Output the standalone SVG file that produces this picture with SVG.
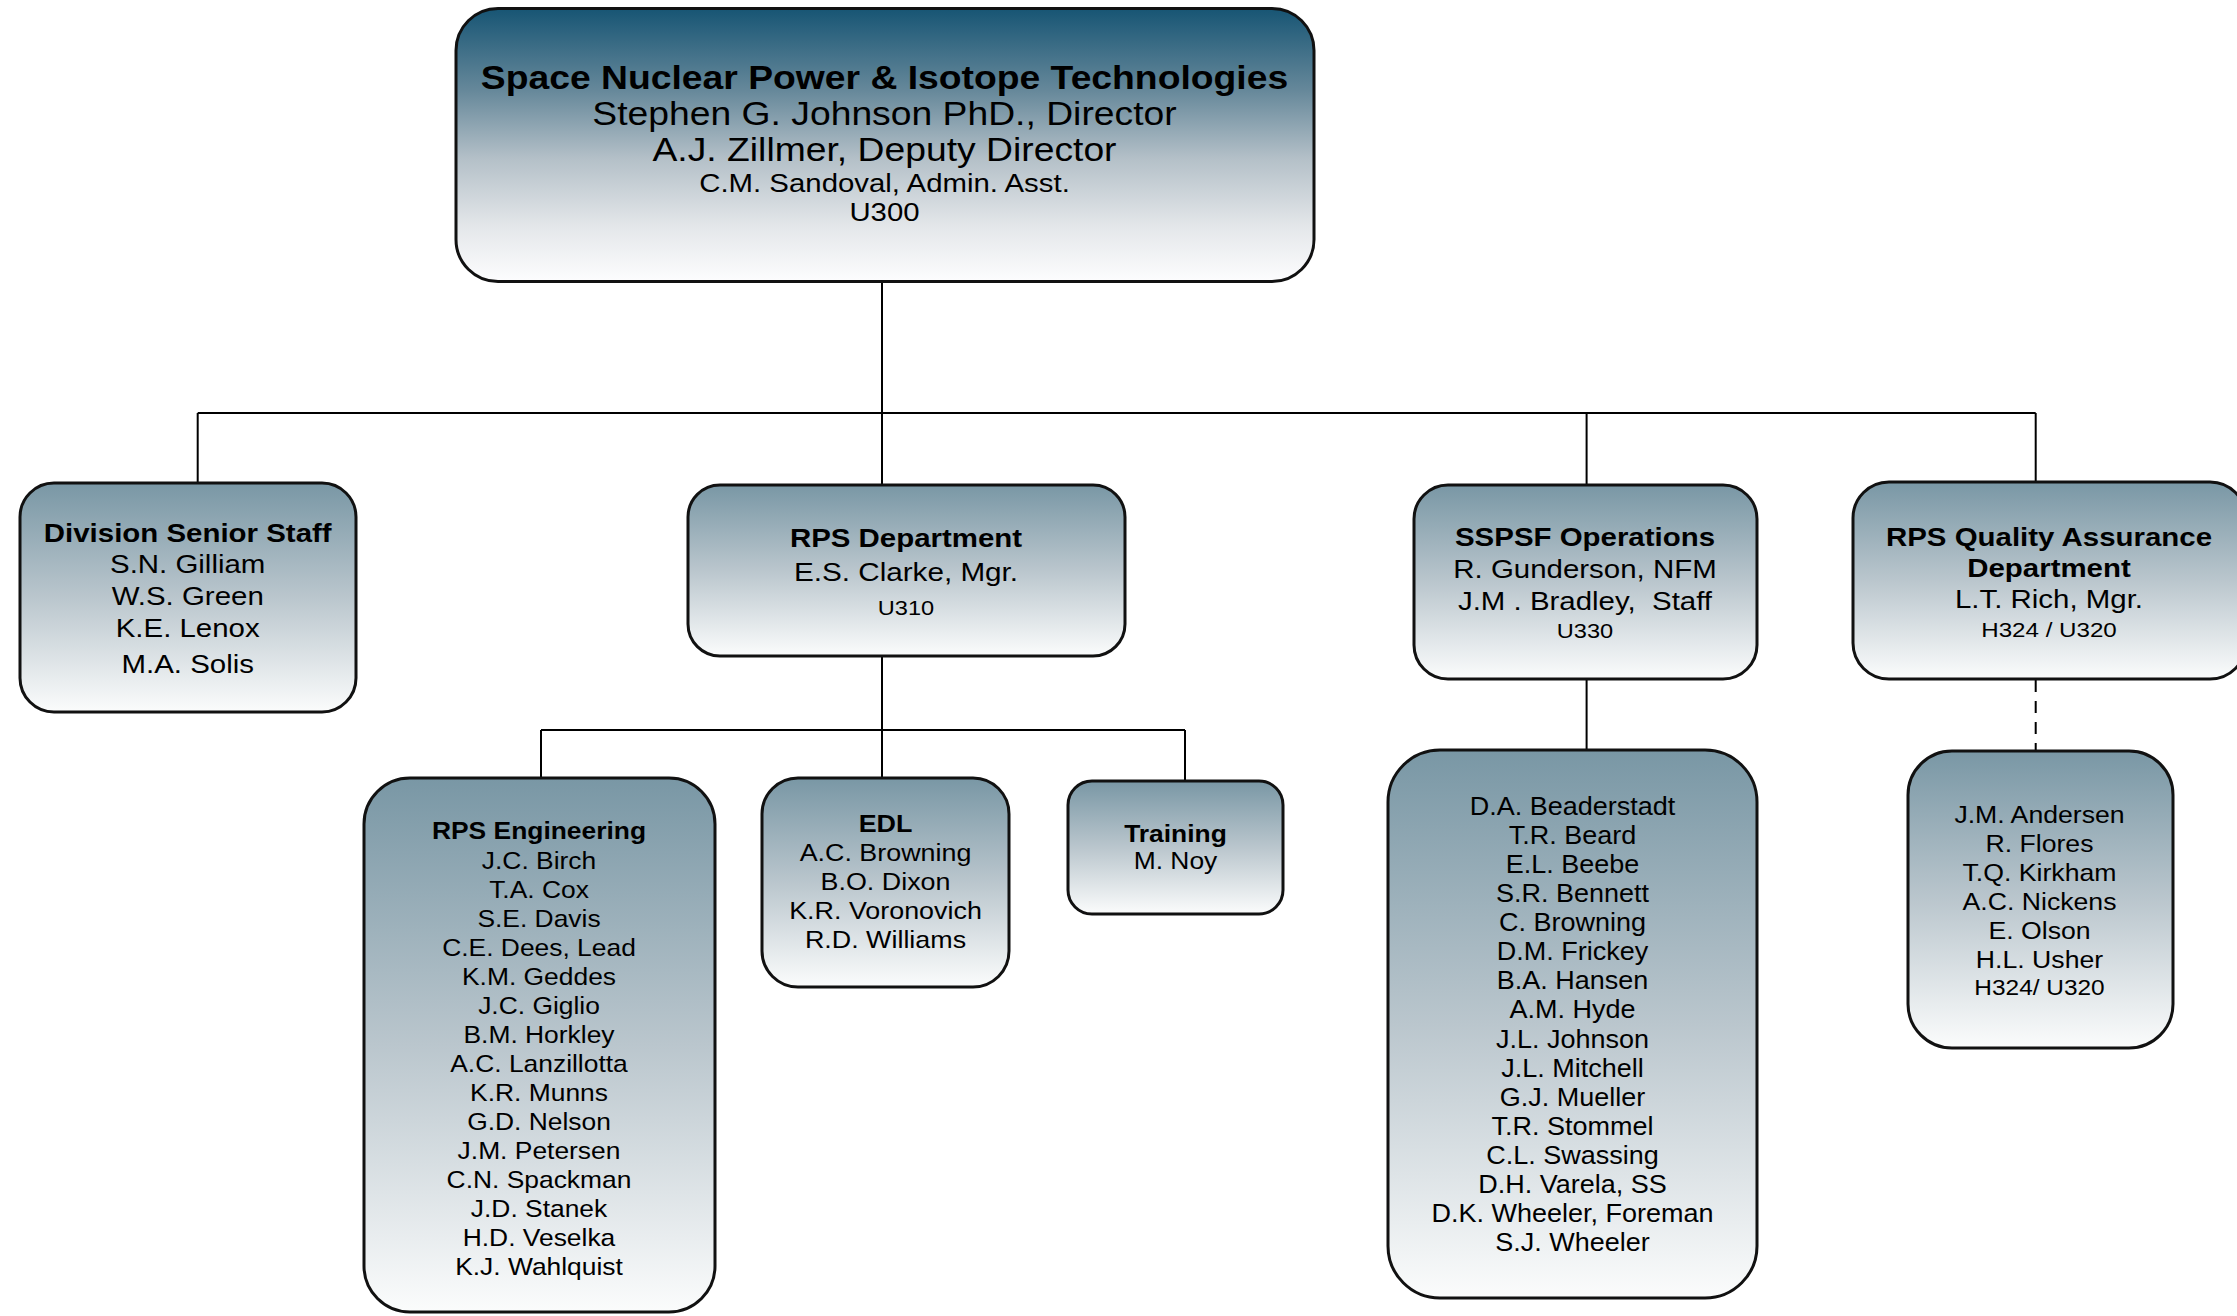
<svg xmlns="http://www.w3.org/2000/svg" width="2237" height="1316" viewBox="0 0 2237 1316">
<style>
text{font-family:"Liberation Sans",Arial,Helvetica,sans-serif;fill:#000;text-anchor:middle;white-space:pre}
.b{font-weight:bold}
.box{stroke:#111;stroke-width:3;fill:url(#gBox)}
.top{stroke:#111;stroke-width:3;fill:url(#gTop)}
.ln{stroke:#000;stroke-width:2;fill:none}
.dash{stroke:#000;stroke-width:2;fill:none;stroke-dasharray:12 9}
</style>
<defs>
<linearGradient id="gTop" x1="0" y1="0" x2="0" y2="1">
<stop offset="0" stop-color="#175574"/>
<stop offset="0.3" stop-color="#66889a"/>
<stop offset="0.55" stop-color="#b4c0c8"/>
<stop offset="0.8" stop-color="#e4e7ea"/>
<stop offset="1" stop-color="#fdfdfe"/>
</linearGradient>
<linearGradient id="gBox" x1="0" y1="0" x2="0" y2="1">
<stop offset="0" stop-color="#7997a5"/>
<stop offset="0.5" stop-color="#bac6cd"/>
<stop offset="1" stop-color="#fbfcfc"/>
</linearGradient>
</defs>
<rect width="2237" height="1316" fill="#fff"/>

<g id="connectors">
<line class="ln" x1="882" y1="281" x2="882" y2="485"/>
<line class="ln" x1="197.7" y1="413" x2="2035.7" y2="413"/>
<line class="ln" x1="197.7" y1="413" x2="197.7" y2="483"/>
<line class="ln" x1="1586.6" y1="413" x2="1586.6" y2="485"/>
<line class="ln" x1="2035.7" y1="413" x2="2035.7" y2="482"/>
<line class="ln" x1="882" y1="656" x2="882" y2="778"/>
<line class="ln" x1="541" y1="730" x2="1185" y2="730"/>
<line class="ln" x1="541" y1="730" x2="541" y2="778"/>
<line class="ln" x1="1185" y1="730" x2="1185" y2="781"/>
<line class="ln" x1="1586.6" y1="679" x2="1586.6" y2="750"/>
<line class="dash" x1="2035.7" y1="680" x2="2035.7" y2="751"/>
</g>

<g id="director">
<rect class="top" x="456" y="8.5" width="858" height="273" rx="42" ry="42"/>
<g transform="translate(884.5 0) scale(1.13 1)">
<text class="b" x="0" y="89" font-size="33">Space Nuclear Power &amp; Isotope Technologies</text>
<text x="0" y="125" font-size="33">Stephen G. Johnson PhD., Director</text>
<text x="0" y="161.5" font-size="33">A.J. Zillmer, Deputy Director</text>
<text x="0" y="192.5" font-size="26">C.M. Sandoval, Admin. Asst.</text>
<text x="0" y="221.5" font-size="26">U300</text>
</g>
</g>

<g id="senior-staff">
<rect class="box" x="20" y="483" width="336" height="229" rx="34" ry="34"/>
<g transform="translate(187.7 0) scale(1.15 1)">
<text class="b" x="0" y="541.7" font-size="25.6">Division Senior Staff</text>
<text x="0" y="573.3" font-size="25.6">S.N. Gilliam</text>
<text x="0" y="605" font-size="25.6">W.S. Green</text>
<text x="0" y="636.7" font-size="25.6">K.E. Lenox</text>
<text x="0" y="673.3" font-size="25.6">M.A. Solis</text>
</g>
</g>

<g id="rps-department">
<rect class="box" x="688" y="485" width="437" height="171" rx="32" ry="32"/>
<g transform="translate(906 0) scale(1.15 1)">
<text class="b" x="0" y="546.7" font-size="25.6">RPS Department</text>
<text x="0" y="581" font-size="25.8">E.S. Clarke, Mgr.</text>
<text x="0" y="615" font-size="20.5">U310</text>
</g>
</g>

<g id="sspsf-operations">
<rect class="box" x="1414" y="485" width="343" height="194" rx="34" ry="34"/>
<g transform="translate(1585 0) scale(1.15 1)">
<text class="b" x="0" y="546" font-size="25.6">SSPSF Operations</text>
<text x="0" y="577.7" font-size="25.6">R. Gunderson, NFM</text>
<text x="0" y="610" font-size="25.6">J.M . Bradley,  Staff</text>
<text x="0" y="637.7" font-size="20.5">U330</text>
</g>
</g>

<g id="rps-qa">
<rect class="box" x="1853" y="482" width="393" height="197" rx="36" ry="36"/>
<g transform="translate(2049 0) scale(1.15 1)">
<text class="b" x="0" y="546.5" font-size="25.6">RPS Quality Assurance</text>
<text class="b" x="0" y="577" font-size="25.6">Department</text>
<text x="0" y="608" font-size="25.6">L.T. Rich, Mgr.</text>
<text x="0" y="636.7" font-size="21">H324 / U320</text>
</g>
</g>

<g id="rps-engineering">
<rect class="box" x="364" y="778" width="351" height="534" rx="46" ry="46"/>
<g transform="translate(539 0) scale(1.1 1)" font-size="24">
<text class="b" x="0" y="839.5">RPS Engineering</text>
<text x="0" y="869">J.C. Birch</text>
<text x="0" y="898">T.A. Cox</text>
<text x="0" y="927">S.E. Davis</text>
<text x="0" y="956">C.E. Dees, Lead</text>
<text x="0" y="985">K.M. Geddes</text>
<text x="0" y="1014">J.C. Giglio</text>
<text x="0" y="1043">B.M. Horkley</text>
<text x="0" y="1072">A.C. Lanzillotta</text>
<text x="0" y="1101">K.R. Munns</text>
<text x="0" y="1130">G.D. Nelson</text>
<text x="0" y="1159">J.M. Petersen</text>
<text x="0" y="1188">C.N. Spackman</text>
<text x="0" y="1217">J.D. Stanek</text>
<text x="0" y="1246">H.D. Veselka</text>
<text x="0" y="1275">K.J. Wahlquist</text>
</g>
</g>

<g id="edl">
<rect class="box" x="762" y="778" width="247" height="209" rx="36" ry="36"/>
<g transform="translate(885.5 0) scale(1.12 1)" font-size="24">
<text class="b" x="0" y="832">EDL</text>
<text x="0" y="861.4">A.C. Browning</text>
<text x="0" y="890.3">B.O. Dixon</text>
<text x="0" y="919.2">K.R. Voronovich</text>
<text x="0" y="948">R.D. Williams</text>
</g>
</g>

<g id="training">
<rect class="box" x="1068" y="781" width="215" height="133" rx="24" ry="24"/>
<g transform="translate(1175.5 0) scale(1.1 1)" font-size="24">
<text class="b" x="0" y="841.7">Training</text>
<text x="0" y="869.4">M. Noy</text>
</g>
</g>

<g id="sspsf-staff">
<rect class="box" x="1388" y="750" width="369" height="548" rx="52" ry="52"/>
<g transform="translate(1572.5 0) scale(1.08 1)" font-size="25">
<text x="0" y="814.8">D.A. Beaderstadt</text>
<text x="0" y="843.9">T.R. Beard</text>
<text x="0" y="873">E.L. Beebe</text>
<text x="0" y="902.1">S.R. Bennett</text>
<text x="0" y="931.2">C. Browning</text>
<text x="0" y="960.3">D.M. Frickey</text>
<text x="0" y="989.4">B.A. Hansen</text>
<text x="0" y="1018.5">A.M. Hyde</text>
<text x="0" y="1047.6">J.L. Johnson</text>
<text x="0" y="1076.7">J.L. Mitchell</text>
<text x="0" y="1105.8">G.J. Mueller</text>
<text x="0" y="1134.9">T.R. Stommel</text>
<text x="0" y="1164">C.L. Swassing</text>
<text x="0" y="1193.1">D.H. Varela, SS</text>
<text x="0" y="1222.2">D.K. Wheeler, Foreman</text>
<text x="0" y="1251.3">S.J. Wheeler</text>
</g>
</g>

<g id="qa-staff">
<rect class="box" x="1908" y="751" width="265" height="297" rx="44" ry="44"/>
<g transform="translate(2039.5 0) scale(1.11 1)" font-size="24">
<text x="0" y="823">J.M. Andersen</text>
<text x="0" y="851.6">R. Flores</text>
<text x="0" y="880.6">T.Q. Kirkham</text>
<text x="0" y="909.6">A.C. Nickens</text>
<text x="0" y="938.6">E. Olson</text>
<text x="0" y="967.6">H.L. Usher</text>
<text x="0" y="994.7" font-size="22">H324/ U320</text>
</g>
</g>
</svg>
